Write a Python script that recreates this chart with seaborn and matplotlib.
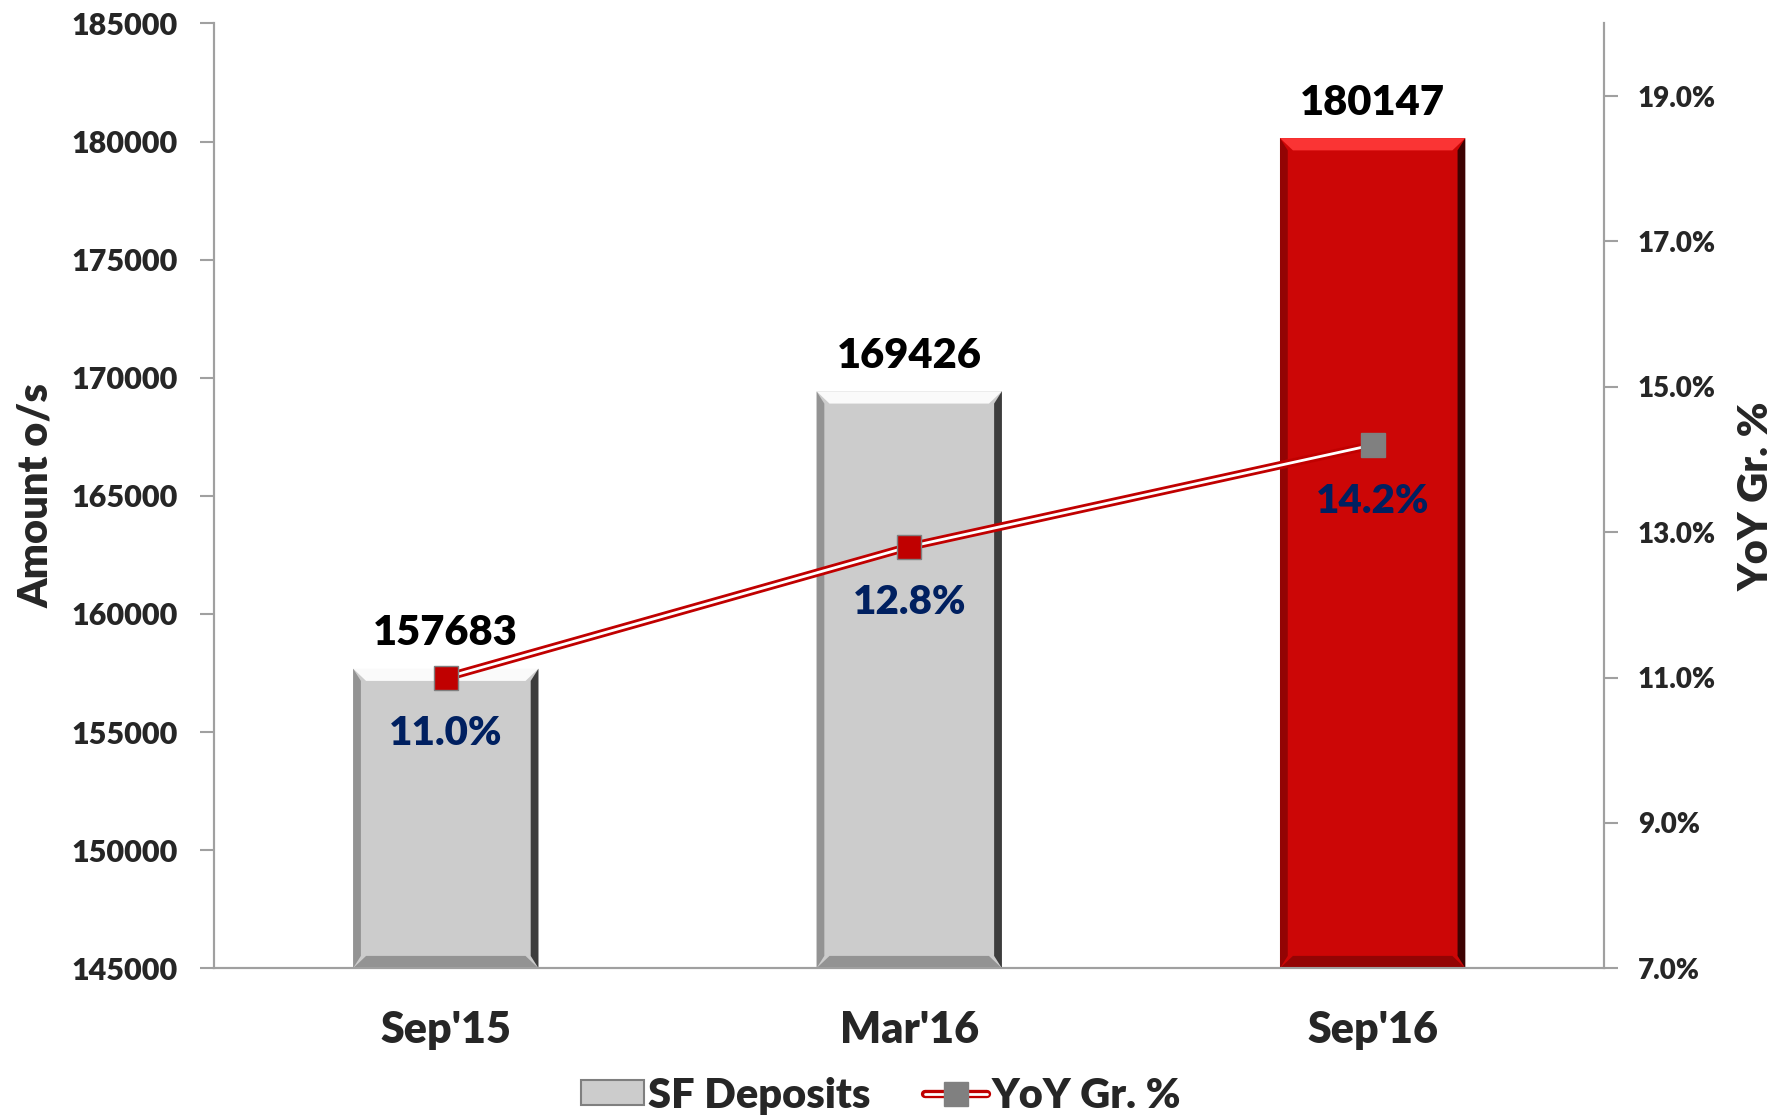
import matplotlib
matplotlib.use("Agg")
import matplotlib.pyplot as plt
import seaborn as sns
import pandas as pd
import numpy as np
from matplotlib.patches import Polygon, Patch
from matplotlib.lines import Line2D

periods = ["Sep'15", "Mar'16", "Sep'16"]
deposits = [157683, 169426, 180147]
growth = [11.0, 12.8, 14.2]
bar_colors = ["#cccccc", "#cccccc", "#cc0606"]
marker_colors = ["#c00000", "#c00000", "#808080"]

sns.set_style("white")
plt.rcParams['font.family'] = ['Lato', 'DejaVu Sans']
W = "heavy"
plt.rcParams['font.weight'] = W

df = pd.DataFrame({"Period": periods, "Amount": deposits})

fig = plt.figure(figsize=(17.87, 11.18), dpi=100)
ax = fig.add_axes([0.1198, 0.134, 0.778, 0.845])

sns.barplot(data=df, x="Period", y="Amount", hue="Period", palette=bar_colors,
            legend=False, width=0.4, ax=ax, edgecolor="none", saturation=1)
ax.set_ylim(145000, 185000)
ax.set_xlim(-0.5, 2.5)
ax.set_yticks(np.arange(145000, 185001, 5000))

# bevel look on each bar
ymin = 145000
for p, col in zip(ax.patches, bar_colors):
    x0 = p.get_x()
    w = p.get_width()
    top = p.get_height()
    bx, by = 0.028, 520
    base = np.array(matplotlib.colors.to_rgb(col))
    light = np.clip(base + 0.18, 0, 1)
    dark = base * 0.3
    mid = base * 0.72
    ax.add_patch(Polygon([(x0, top), (x0 + w, top), (x0 + w - bx, top - by), (x0 + bx, top - by)],
                         closed=True, color=light, zorder=3, lw=0))
    ax.add_patch(Polygon([(x0 + w, top), (x0 + w, ymin), (x0 + w - bx * 0.6, ymin + by), (x0 + w - bx * 0.6, top - by)],
                         closed=True, color=dark, zorder=3, lw=0))
    ax.add_patch(Polygon([(x0, top), (x0, ymin), (x0 + bx * 0.6, ymin + by), (x0 + bx * 0.6, top - by)],
                         closed=True, color=mid, zorder=3, lw=0))
    ax.add_patch(Polygon([(x0, ymin), (x0 + w, ymin), (x0 + w - bx, ymin + by), (x0 + bx, ymin + by)],
                         closed=True, color=mid, zorder=3, lw=0))
    ax.text(x0 + w / 2, top + 700, f"{top:.0f}", ha="center", va="bottom",
            fontsize=30, fontweight=W, color="black")

ax.set_xticks([-0.5, 0.5, 1.5, 2.5])
ax.set_xticklabels([])
ax.set_xticks([0, 1, 2], minor=True)
ax.set_xticklabels(periods, minor=True, fontsize=31, fontweight=W)
ax.tick_params(axis="x", which="major", direction="out", length=10, color="#a0a0a0", width=1.5)
ax.tick_params(axis="x", which="minor", length=0, pad=30)
ax.tick_params(axis="y", direction="out", length=10, color="#a0a0a0", width=1.5,
               labelsize=22, pad=16, left=True)
for lab in ax.get_yticklabels():
    lab.set_fontweight(W)
ax.set_xlabel("")
ax.set_ylabel("Amount o/s", fontsize=30, fontweight=W, labelpad=12)

ax2 = ax.twinx()
ax2.set_ylim(7, 20)
ax2.set_yticks(np.arange(7, 20, 2))
ax2.set_yticklabels([f"{v:.1f}%" for v in np.arange(7, 20, 2)], fontsize=20, fontweight=W)
ax2.tick_params(axis="y", direction="out", length=10, color="#a0a0a0", width=1.5, pad=14, right=True)
ax2.set_ylabel("YoY Gr. %", fontsize=30, fontweight=W, labelpad=16)

xs = np.arange(len(periods))
ax2.plot(xs, growth, color="#c00000", lw=6, zorder=4, solid_capstyle="butt")
ax2.plot(xs, growth, color="white", lw=2, zorder=5)
for x, g, mc in zip(xs, growth, marker_colors):
    ax2.plot(x, g, marker="s", ms=17, color=mc, markeredgecolor="#7f7f7f", mew=1, zorder=6)
    ax2.text(x, g - 0.52, f"{g:.1f}%", ha="center", va="top", fontsize=29,
             fontweight=W, color="#002060", zorder=6)

for a in (ax, ax2):
    a.spines["top"].set_visible(False)
    for s in ("left", "right", "bottom"):
        a.spines[s].set_color("#a0a0a0")
        a.spines[s].set_linewidth(1.5)

ax.set_zorder(1)
ax2.set_zorder(2)
ax2.patch.set_visible(False)

h_bar = Patch(facecolor="#cccccc", edgecolor="#7f7f7f", lw=1.5)
h_line = (Line2D([], [], color="#c00000", lw=6),
          Line2D([], [], color="white", lw=2),
          Line2D([], [], ls="none", marker="s", ms=17, color="#808080"))
leg = fig.legend([h_bar, h_line], ["SF Deposits", "YoY Gr. %"], loc="center",
                 bbox_to_anchor=(0.493, 0.02), ncol=2, frameon=False,
                 prop={"size": 30, "weight": W}, handlelength=1.5, handleheight=0.55,
                 handletextpad=0.1, columnspacing=1.3)

fig.savefig("out.png", dpi=100)
